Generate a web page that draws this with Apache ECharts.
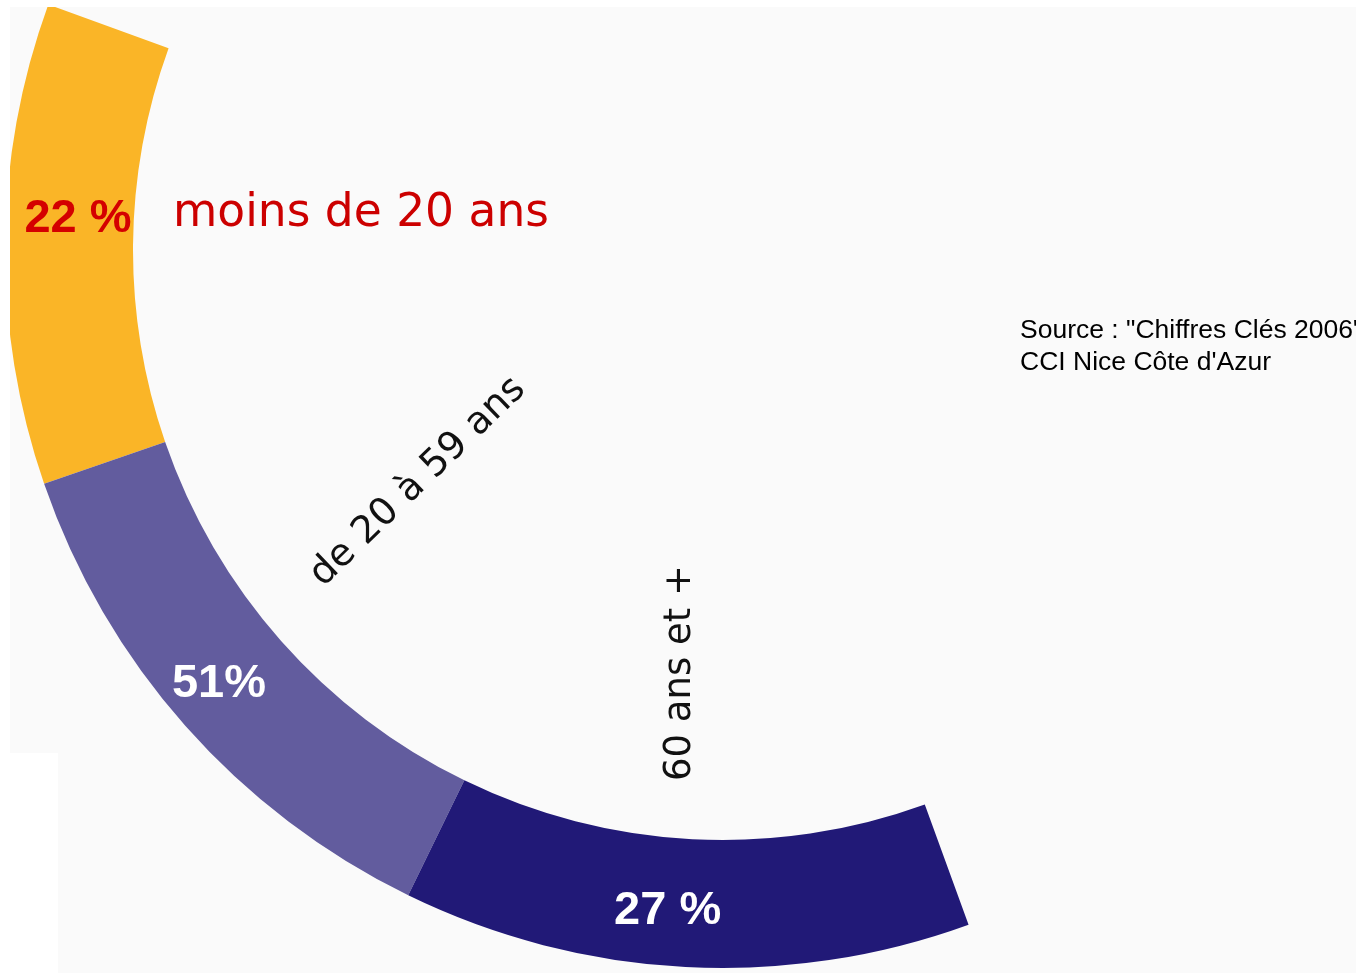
<!DOCTYPE html>
<html>
<head>
<meta charset="utf-8">
<title>Population par âge</title>
<script src="https://cdn.jsdelivr.net/npm/echarts@6/dist/echarts.min.js"></script>
<style>
    html, body { margin: 0; padding: 0; background: #ffffff; }
    #chart_1 { width: 1356px; height: 973px; }
</style>
</head>
<body>
<div id="chart_1"></div>
<script>
// age groups, as printed on the chart
var categories = ['moins de 20 ans', 'de 20 à 59 ans', '60 ans et +'];
// shares printed on each band
var shareLabels = ['22 %', '51%', '27 %'];
// arc drawn for each band (degrees of the half ring)
var arcDegrees = [39, 45, 46];
var sourceLines = ['Source : "Chiffres Clés 2006"', "CCI Nice Côte d'Azur"];

(function (data) {

    var myChart = echarts.init(document.getElementById('chart_1'));
    myChart.clear();

    var colors = ['#fab527', '#625c9e', '#211977'];
    var labelColors = ['#d40000', '#ffffff', '#ffffff'];
    // nudge the printed shares to where the original put them
    var labelOffsets = [[12, -25], [-12, -1], [-21, 5]];

    var seriesData = [];
    for (var i = 0; i < data.arc.length; i++) {
        seriesData.push({
            value: data.arc[i],
            name: data.names[i],
            itemStyle: {color: colors[i]},
            label: {color: labelColors[i], offset: labelOffsets[i]}
        });
    }
    // rest of the circle stays empty
    var total = 0;
    data.arc.forEach(function (v) { total += v; });
    seriesData.push({
        value: 360 - total,
        name: '',
        itemStyle: {color: 'rgba(0,0,0,0)'},
        label: {show: false},
        emphasis: {disabled: true}
    });

    var catFont = '38px "DejaVu Sans"';

    var option = {
        backgroundColor: '#ffffff',
        animation: false,
        graphic: [
            {type: 'rect', z: -10, shape: {x: 10, y: 7, width: 1346, height: 746}, style: {fill: '#fafafa'}},
            {type: 'rect', z: -10, shape: {x: 58, y: 7, width: 1298, height: 966}, style: {fill: '#fafafa'}},
            // the ring is cut by the frame at top and left
            {type: 'rect', zlevel: 1, z: 100, shape: {x: 0, y: 0, width: 1356, height: 7}, style: {fill: '#ffffff'}},
            {type: 'rect', zlevel: 1, z: 100, shape: {x: 0, y: 0, width: 10, height: 973}, style: {fill: '#ffffff'}},
            {
                type: 'text', z: 100, x: 173, y: 214,
                style: {text: data.names[0], font: '45.5px "DejaVu Sans"', fill: '#cc0000',
                    align: 'left', verticalAlign: 'middle', textAlign: 'left', textVerticalAlign: 'middle'}
            },
            {
                type: 'text', z: 100, x: 418, y: 482, rotation: 44 * Math.PI / 180,
                style: {text: data.names[1], font: catFont, fill: '#111111',
                    align: 'center', verticalAlign: 'middle', textAlign: 'center', textVerticalAlign: 'middle'}
            },
            {
                type: 'text', z: 100, x: 680, y: 673, rotation: Math.PI / 2,
                style: {text: data.names[2], font: '37px "DejaVu Sans"', fill: '#111111',
                    align: 'center', verticalAlign: 'middle', textAlign: 'center', textVerticalAlign: 'middle'}
            },
            {
                type: 'text', z: 100, x: 1020, y: 315,
                style: {text: sourceLines.join('\n'), font: '26.5px "Liberation Sans"', fill: '#000000',
                    lineHeight: 32, align: 'left', verticalAlign: 'top', textAlign: 'left', textVerticalAlign: 'top'}
            }
        ],
        series: [
            {
                name: 'Population',
                type: 'pie',
                z: 2,
                center: [723, 250],
                radius: [590, 718],
                startAngle: 160,
                clockwise: false,
                avoidLabelOverlap: false,
                silent: true,
                label: {
                    show: true,
                    position: 'inside',
                    fontFamily: 'Liberation Sans',
                    fontWeight: 'bold',
                    fontSize: 47,
                    formatter: function (p) {
                        return data.labels[p.dataIndex] || '';
                    }
                },
                labelLine: {show: false},
                data: seriesData
            }
        ]
    };

    myChart.setOption(option);
    window.addEventListener("resize", function () {
        myChart.resize();
    });

})({names: categories, labels: shareLabels, arc: arcDegrees});
</script>
</body>
</html>
